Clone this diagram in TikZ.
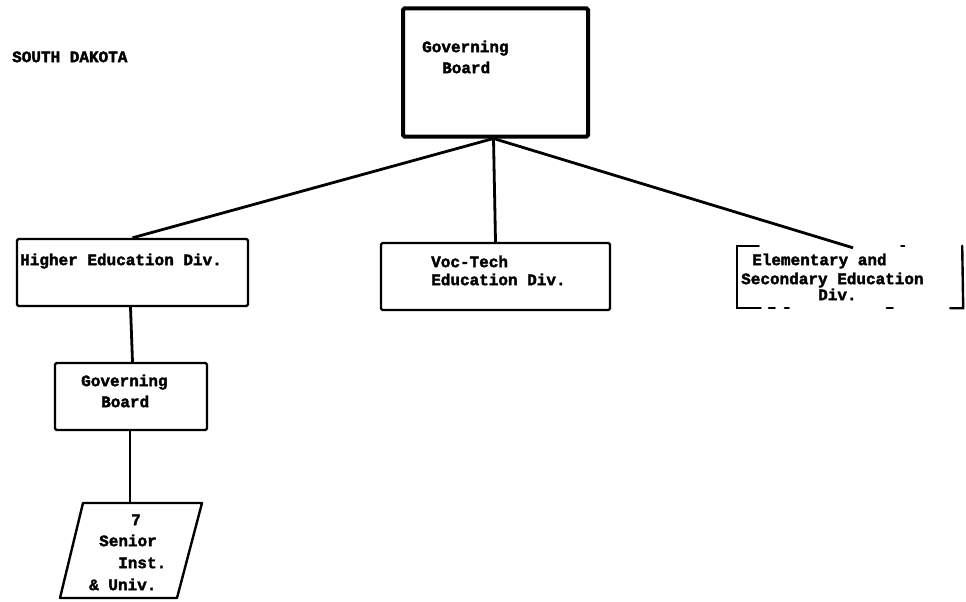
\documentclass[tikz,border=0pt]{standalone}
\usepackage{fontspec}
\newfontfamily\tw{Liberation Mono}[BoldFeatures={FakeBold=2.2}]
\begin{document}
\begin{tikzpicture}[x=1pt,y=-1pt,
  lbl/.style={font=\tw\bfseries\fontsize{16}{19}\selectfont, inner sep=0pt, anchor=mid west},
  box/.style={draw, line width=2.4pt, rounded corners=1.5pt, inner sep=0pt},
  link/.style={line width=2.8pt},
  edge/.style={line width=2.4pt, line cap=round}]
\useasboundingbox (0,0) rectangle (966,602);

% title
\node[lbl] (title) at (12,60) {SOUTH DAKOTA};

% state governing board
\node[box, line width=4pt, minimum width=185pt, minimum height=128pt] (gov) at (495.5,72.5) {};
\node[lbl] (govA) at (422,50) {Governing};
\node[lbl] (govB) at (442,71) {Board};

% divisions
\node[box, minimum width=231pt, minimum height=67pt] (higher) at (132.5,272.5) {};
\node[lbl] (higherA) at (20,263) {Higher Education Div.};

\node[box, minimum width=229pt, minimum height=67pt] (voc) at (495.5,276.5) {};
\node[lbl] (vocA) at (431,265) {Voc-Tech};
\node[lbl] (vocB) at (431,283) {Education Div.};

\node[minimum width=226pt, minimum height=62pt, inner sep=0pt] (elem) at (850,277) {};
\draw[edge] ([xshift=22pt]elem.north west) -- (elem.north west) -- (elem.south west) -- ([xshift=24pt]elem.south west);
\draw[edge] ([xshift=-1pt]elem.north east) -- (elem.south east) -- ([xshift=-13pt]elem.south east);
\draw[edge] ([xshift=32pt]elem.south west) -- ([xshift=38pt]elem.south west);
\draw[edge] ([xshift=48pt]elem.south west) -- ([xshift=52pt]elem.south west);
\draw[edge] ([xshift=150pt]elem.south west) -- ([xshift=156pt]elem.south west);
\draw[edge] ([xshift=-62pt]elem.north east) -- ([xshift=-59pt]elem.north east);
\node[lbl] (elemA) at (752,263) {Elementary and};
\node[lbl] (elemB) at (741,282) {Secondary Education};
\node[lbl] (elemC) at (818,298) {Div.};

% lower governing board
\node[box, minimum width=152pt, minimum height=67pt] (gov2) at (131,396.5) {};
\node[lbl] (gov2A) at (81,384) {Governing};
\node[lbl] (gov2B) at (101,405) {Board};

% institutions
\coordinate (pTL) at (83,503);
\coordinate (pTR) at (202,503);
\coordinate (pBR) at (177,598);
\coordinate (pBL) at (60,598);
\coordinate (pTop) at (130,503);
\draw[line width=2.4pt, line join=round] (pTL) -- (pTR) -- (pBR) -- (pBL) -- cycle;
\node[lbl] (instA) at (131,523) {7};
\node[lbl] (instB) at (99,544) {Senior};
\node[lbl] (instC) at (118,566) {Inst.};
\node[lbl] (instD) at (89,588) {\& Univ.};

% connectors
\draw[link] ([xshift=-2pt]gov.south) -- (higher.north);
\draw[link] ([xshift=-2pt]gov.south) -- (voc.north);
\draw[link] ([xshift=-2pt]gov.south) -- ([xshift=3pt,yshift=-2pt]elem.north);
\draw[link] ([xshift=-2pt]higher.south) -- (gov2.north -| higher.south);
\draw[link] (gov2.south -| pTop) -- (pTop);
\end{tikzpicture}
\end{document}
